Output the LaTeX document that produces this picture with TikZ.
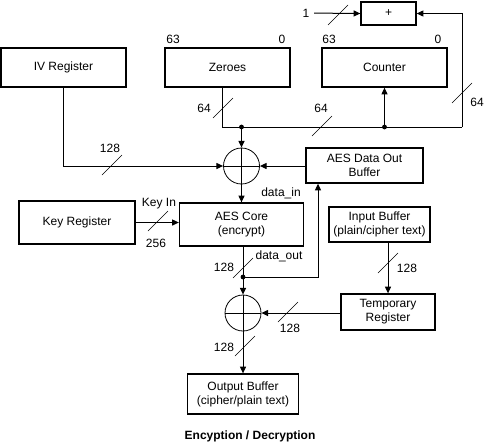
\documentclass[tikz,border=0pt]{standalone}
\usepackage{fontspec}
\setmainfont{Liberation Sans}
\usetikzlibrary{arrows.meta}

\tikzset{
  block/.style={draw,line width=1pt,align=center,inner sep=0pt},
  xorgate/.style={circle,draw,line width=0.6pt,minimum size=27pt,inner sep=0pt,
    path picture={\draw[line width=0.6pt] (path picture bounding box.north) -- (path picture bounding box.south)
      (path picture bounding box.west) -- (path picture bounding box.east);}},
  wire/.style={line width=0.75pt},
  arr/.style={wire,-{Triangle[length=5pt,width=4.5pt]}},
  busmark/.style={line width=0.45pt},
  junction/.style={fill,circle,inner sep=0pt,minimum size=3.6pt},
}

\begin{document}
\begin{tikzpicture}[x=0.75pt,y=-0.75pt,font=\fontsize{9}{10.5}\selectfont]

      \useasboundingbox (0,0) rectangle (484,444);

      \begin{scope}[every node/.style={block}]
        \node[minimum width=41.25pt,minimum height=17.25pt] (plus)    at (388.5,13.5) {+};
        \node[minimum width=93.75pt,minimum height=29.25pt] (iv)      at (63.5,67.5)  {IV Register};
        \node[minimum width=93.75pt,minimum height=29.25pt] (zeroes)  at (227.5,67.5) {Zeroes};
        \node[minimum width=93.75pt,minimum height=29.25pt] (counter) at (384.5,67.5) {Counter};
        \node[minimum width=87.75pt,minimum height=26.25pt] (aesout)  at (364.5,165.5) {AES Data Out\\Buffer};
        \node[minimum width=87pt,minimum height=32.25pt]    (key)     at (77,222.5)   {Key Register};
        \node[minimum width=93pt,minimum height=32.25pt]    (core)    at (241.5,224.5) {AES Core\\(encrypt)};
        \node[minimum width=75.75pt,minimum height=26.25pt] (inbuf)   at (379.5,224.5) {Input Buffer\\(plain/cipher text)};
        \node[minimum width=70.5pt,minimum height=27pt]     (temp)    at (388,312)    {Temporary\\Register};
        \node[minimum width=83.25pt,minimum height=30pt]    (outbuf)  at (243,394)    {Output Buffer\\(cipher/plain text)};
      \end{scope}

      \node[xorgate] (xor1) at (241.5,166) {};
      \node[xorgate] (xor2) at (243,313) {};

      \node (one) at (306,13) {1};
      \coordinate (j1) at (241.5,127);
      \coordinate (j2) at (384.5,127);
      \coordinate (c1) at (462,127);
      \coordinate (j3) at (243,277);
      \coordinate (c2) at (318,277);

      % counter loop
      \draw[wire] ([xshift=-3.4pt]zeroes.south) |- (c1);
      \draw[arr] (c1) |- (plus.east);
      \draw[arr] (one) -- (plus.west);
      \draw[arr] (j2) -- (counter.south);
      \draw[arr] (j1) -- (xor1.north);

      % first xor
      \draw[arr] (iv.south) |- (xor1.west);
      \draw[arr] (aesout.west |- xor1.east) -- (xor1.east);
      \draw[arr] (xor1.south) -- (core.north);
      \draw[arr] (key.east) -- (core.west |- key.east);

      % second xor
      \draw[wire] (core.south -| j3) -- (j3);
      \draw[arr] (j3) -- (c2) -- (c2 |- aesout.south);
      \draw[arr] (j3) -- (xor2.north);
      \draw[arr] (temp.north |- inbuf.south) -- (temp.north);
      \draw[arr] (temp.west |- xor2.east) -- (xor2.east);
      \draw[arr] (xor2.south) -- (outbuf.north);

      \node[junction] at (j1) {};
      \node[junction] at (j2) {};
      \node[junction] at (j3) {};

      % bus widths
      \foreach \x/\y in {338/15, 223/108, 322/126, 462/93, 112/165, 158/221, 243/268, 388/263, 288/312, 245/346}
        \draw[busmark] (\x,\y) ++(-10,10) -- ++(20,-20);

      \begin{scope}[every node/.style={inner sep=0pt}]
        \node at (173,39) {63};
        \node at (282,39) {0};
        \node at (329,39) {63};
        \node at (438,39) {0};
        \node at (204,108) {64};
        \node at (321,108) {64};
        \node at (477,102) {64};
        \node at (110,148) {128};
        \node at (281,193) {data\_in};
        \node at (159,204) {Key In};
        \node at (156,243) {256};
        \node at (279,256) {data\_out};
        \node at (224,267) {128};
        \node at (407,268) {128};
        \node at (290,328) {128};
        \node at (224,347) {128};
        \node[font=\fontsize{9}{10.5}\selectfont\bfseries] at (250,436) {Encyption / Decryption};
      \end{scope}

    \end{tikzpicture}
\end{document}
